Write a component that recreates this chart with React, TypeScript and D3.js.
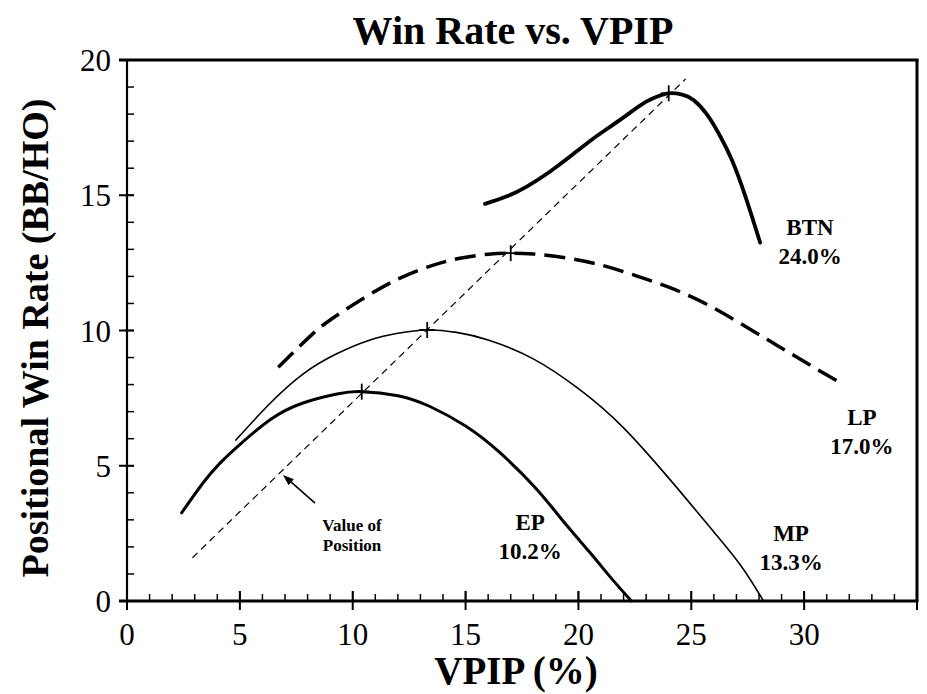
import React from "react";
import * as d3 from "d3";

// ---- data ----
const EP_X = [2.42, 3.4, 4.1, 4.86, 6.34, 7.8, 9.3, 10.4, 12.0, 13.4, 15.0, 16.5, 18.1, 19.2, 20.5, 21.5, 22.35];
const EP_Y = [3.26, 4.4, 5.08, 5.68, 6.7, 7.32, 7.65, 7.74, 7.59, 7.2, 6.47, 5.5, 4.18, 3.08, 1.8, 0.8, 0];

const MP_X = [4.8, 6.34, 7.81, 9.29, 10.77, 12.0, 13.3, 14.6, 16.0, 18.0, 20.0, 22.0, 24.35, 26.0, 27.2, 28.2];
const MP_Y = [5.93, 7.31, 8.4, 9.14, 9.65, 9.9, 10.02, 9.93, 9.65, 8.95, 7.85, 6.4, 4.2, 2.55, 1.3, 0];

const LP_X = [6.7, 8.0, 9.0, 10.5, 12.0, 13.5, 14.75, 16.0, 17.0, 18.0, 19.5, 21.0, 22.5, 24.0, 25.5, 27.0, 28.5, 30.0, 31.7];
const LP_Y = [8.64, 9.7, 10.39, 11.2, 11.9, 12.4, 12.67, 12.82, 12.86, 12.83, 12.68, 12.42, 12.04, 11.6, 11.05, 10.35, 9.6, 8.85, 8.02];

const BTN_X = [15.86, 16.8, 17.71, 18.7, 19.63, 20.5, 21.4, 22.2, 22.88, 23.5, 24.0, 24.6, 25.1, 25.7, 26.27, 26.8, 27.4, 28.05];
const BTN_Y = [14.68, 14.95, 15.32, 15.85, 16.43, 17.0, 17.53, 18.0, 18.4, 18.65, 18.77, 18.72, 18.52, 17.98, 17.2, 16.3, 14.95, 13.25];

const VOP_X = [2.9, 24.75];
const VOP_Y = [1.6, 19.3];

const PEAK_X = [10.4, 13.3, 17.0, 24.0];
const PEAK_Y = [7.74, 10.02, 12.86, 18.77];

const SERIES_NAMES = ["EP", "MP", "LP", "BTN"];
const SERIES_PCT = ["10.2%", "13.3%", "17.0%", "24.0%"];
const LABEL_X = [17.86, 29.42, 32.56, 30.26];
const LABEL_Y = [2.62, 2.22, 6.51, 13.53];

const ARROW_X = [8.33, 6.91];
const ARROW_Y = [3.62, 4.66];
const NOTE_LINES = ["Value of", "Position"];
const NOTE_X = 9.97;
const NOTE_Y = 2.59;

const X_TICKS = [0, 5, 10, 15, 20, 25, 30];
const Y_TICKS = [0, 5, 10, 15, 20];

const TITLE = "Win Rate vs. VPIP";
const X_LABEL = "VPIP (%)";
const Y_LABEL = "Positional Win Rate (BB/HO)";

// ---- layout ----
const W = 927;
const H = 694;
const L = 127, R = 917, T = 60, B = 601;
const FONT = "'Liberation Serif', 'Times New Roman', serif";

export default function App() {
  const x = d3.scaleLinear().domain([0, 35]).range([L, R]);
  const y = d3.scaleLinear().domain([0, 20]).range([B, T]);

  const line = d3
    .line<[number, number]>()
    .x((d) => x(d[0]))
    .y((d) => y(d[1]))
    .curve(d3.curveNatural);

  const pts = (xs: number[], ys: number[]) => xs.map((v, i) => [v, ys[i]] as [number, number]);

  const xMinor = d3.range(0, 36, 1);
  const yMinor = d3.range(0, 21, 1);

  const ax0 = x(ARROW_X[0]), ay0 = y(ARROW_Y[0]);
  const ax1 = x(ARROW_X[1]), ay1 = y(ARROW_Y[1]);
  const ang = Math.atan2(ay1 - ay0, ax1 - ax0);
  const hl = 11, hw = 4;
  const bx = ax1 - hl * Math.cos(ang), by = ay1 - hl * Math.sin(ang);
  const head = `M${ax1},${ay1} L${bx + hw * Math.sin(ang)},${by - hw * Math.cos(ang)} L${bx - hw * Math.sin(ang)},${by + hw * Math.cos(ang)} Z`;

  return (
    <svg width={W} height={H} style={{ position: "absolute", left: 0, top: 0, background: "#fff" }} fontFamily={FONT}>
      <rect x={0} y={0} width={W} height={H} fill="#fff" />
      {/* title */}
      <text x={513} y={44} textAnchor="middle" fontSize={40} fontWeight="bold">{TITLE}</text>

      {/* ticks */}
      {xMinor.map((v) => (
        <line key={"xm" + v} x1={x(v)} x2={x(v)} y1={B} y2={v % 5 === 0 ? B - 10 : B - 7} stroke="#000" strokeWidth={1.5} />
      ))}
      {X_TICKS.concat([35]).map((v) => (
        <line key={"xM" + v} x1={x(v)} x2={x(v)} y1={B - 10} y2={B + 9} stroke="#000" strokeWidth={2} />
      ))}
      {yMinor.map((v) => (
        <line key={"ym" + v} x1={L} x2={L + 7} y1={y(v)} y2={y(v)} stroke="#000" strokeWidth={1.5} />
      ))}
      {Y_TICKS.map((v) => (
        <line key={"yM" + v} x1={L - 8} x2={L + 7} y1={y(v)} y2={y(v)} stroke="#000" strokeWidth={2} />
      ))}

      {/* frame */}
      <line x1={L} x2={L} y1={T} y2={B} stroke="#000" strokeWidth={2.2} />
      <line x1={L - 8} x2={R + 1.5} y1={T} y2={T} stroke="#000" strokeWidth={3} />
      <line x1={R} x2={R} y1={T} y2={B} stroke="#000" strokeWidth={3} />
      <line x1={L - 8} x2={R + 1.5} y1={B} y2={B} stroke="#000" strokeWidth={3} />

      {/* tick labels */}
      {X_TICKS.map((v) => (
        <text key={"xl" + v} x={x(v)} y={645} textAnchor="middle" fontSize={31}>{v}</text>
      ))}
      {Y_TICKS.map((v) => (
        <text key={"yl" + v} x={111} y={y(v) + 11} textAnchor="end" fontSize={31}>{v}</text>
      ))}

      {/* axis titles */}
      <text x={516} y={684} textAnchor="middle" fontSize={39} fontWeight="bold">{X_LABEL}</text>
      <text transform={`translate(48,338) rotate(-90)`} textAnchor="middle" fontSize={38} fontWeight="bold">{Y_LABEL}</text>

      {/* value-of-position line */}
      <path d={line(pts(VOP_X, VOP_Y)) || ""} fill="none" stroke="#000" strokeWidth={1.2} strokeDasharray="7,5" />

      {/* curves */}
      <path d={line(pts(EP_X, EP_Y)) || ""} fill="none" stroke="#000" strokeWidth={3} strokeLinecap="round" />
      <path d={line(pts(MP_X, MP_Y)) || ""} fill="none" stroke="#000" strokeWidth={1.6} />
      <path d={line(pts(LP_X, LP_Y)) || ""} fill="none" stroke="#000" strokeWidth={3.5} strokeDasharray="21,9" />
      <path d={line(pts(BTN_X, BTN_Y)) || ""} fill="none" stroke="#000" strokeWidth={3.8} strokeLinecap="round" />

      {/* peak markers */}
      {PEAK_X.map((v, i) => (
        <g key={"pk" + i} stroke="#000" strokeWidth={1.8}>
          <line x1={x(v) - 8} x2={x(v) + 8} y1={y(PEAK_Y[i])} y2={y(PEAK_Y[i])} />
          <line x1={x(v)} x2={x(v)} y1={y(PEAK_Y[i]) - 8} y2={y(PEAK_Y[i]) + 8} />
        </g>
      ))}

      {/* series labels */}
      {SERIES_NAMES.map((n, i) => (
        <g key={"lb" + n}>
          <text x={x(LABEL_X[i])} y={y(LABEL_Y[i])} textAnchor="middle" fontSize={23} fontWeight="bold">{n}</text>
          <text x={x(LABEL_X[i])} y={y(LABEL_Y[i]) + 29} textAnchor="middle" fontSize={23} fontWeight="bold">{SERIES_PCT[i]}</text>
        </g>
      ))}

      {/* arrow + note */}
      <line x1={ax0} y1={ay0} x2={bx} y2={by} stroke="#000" strokeWidth={1.6} />
      <path d={head} fill="#000" />
      {NOTE_LINES.map((t, i) => (
        <text key={"nt" + i} x={x(NOTE_X)} y={y(NOTE_Y) + i * 20} textAnchor="middle" fontSize={17} fontWeight="bold">{t}</text>
      ))}
    </svg>
  );
}
